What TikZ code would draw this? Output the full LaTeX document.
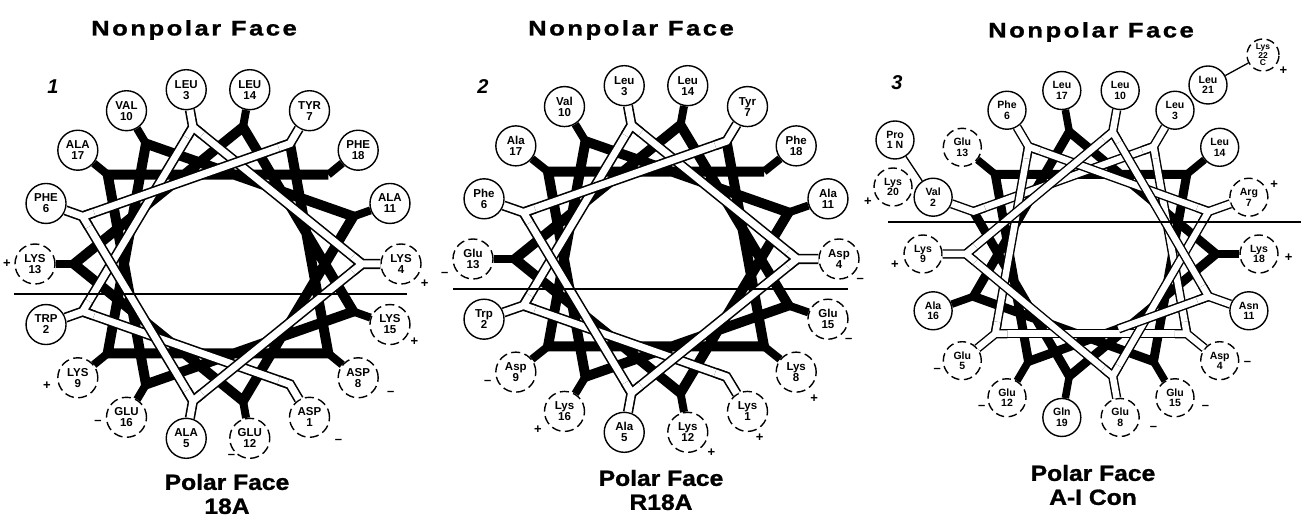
\documentclass[tikz,border=0pt]{standalone}
\usepackage{fontspec}
\setmainfont{Liberation Sans}
\newfontfamily\spacedfont[LetterSpace=12,FakeStretch=1.22,FakeBold=1.2]{Liberation Sans}
\newfontfamily\widefont[FakeStretch=1.12,FakeBold=1.2]{Liberation Sans}
\usetikzlibrary{calc}

\tikzset{
  res/.style={circle,draw,line width=1.4pt,fill=white,minimum size=40pt,inner sep=0pt,
    align=center,font=\fontsize{11.5}{11}\selectfont\bfseries},
  chg/.style={res,dash pattern=on 9pt off 4.5pt},
  resc/.style={res,minimum size=38pt,font=\fontsize{10.5}{10.5}\selectfont\bfseries},
  chgc/.style={resc,dash pattern=on 8.5pt off 4.5pt},
  sgn/.style={inner sep=0pt,font=\fontsize{13}{13}\selectfont\bfseries},
  backband/.style={line width=10pt,line join=miter},
  backstem/.style={line width=8pt},
  frontband/.style={double=white,double distance=7pt,line width=1.6pt,line join=miter},
  frontc/.style={frontband,double distance=6.5pt,line width=1.4pt},
  divide/.style={line width=1.5pt},
  link/.style={line width=1.3pt},
  title/.style={font=\spacedfont\fontsize{21}{21}\selectfont\bfseries},
  face/.style={align=center,font=\widefont\fontsize{22}{24}\selectfont\bfseries},
  tag/.style={font=\fontsize{20}{20}\selectfont\bfseries\itshape},
}

\begin{document}
\begin{tikzpicture}[x=1pt,y=1pt]
  \useasboundingbox (0,0) rectangle (1301,522);

  % wheel 1: 18A
  \begin{scope}[shift={(218,258)}]
    \foreach \n/\nm/\st in {1/ASP/chg,2/TRP/res,3/LEU/res,4/LYS/chg,5/ALA/res,6/PHE/res,
        7/TYR/res,8/ASP/chg,9/LYS/chg,10/VAL/res,11/ALA/res,12/GLU/chg,13/LYS/chg,
        14/LEU/res,15/LYS/chg,16/GLU/chg,17/ALA/res,18/PHE/res}
      \node[\st] (a\n) at ({-60-100*(\n-1)}:183 and 177) {\nm\\\n};
    \foreach \n in {1,...,18}
      \coordinate (ja\n) at ({-60-100*(\n-1)}:144 and 139);
    \draw[backband] (ja7) \foreach \n in {8,...,18} {-- (ja\n)};
    \foreach \n in {8,...,18}
      \draw[backstem] (a\n) -- (ja\n);
    \foreach \n [count=\m from 2] in {1,...,6}
      \draw[frontband] (ja\n) -- (ja\m);
    \draw[frontband] (a1) -- (ja1) -- ($(ja1)!12pt!(ja2)$);
    \foreach \p/\n/\q in {1/2/3,2/3/4,3/4/5,4/5/6,5/6/7}
      \draw[frontband] (a\n) -- (ja\n) ($(ja\n)!12pt!(ja\p)$) -- (ja\n) -- ($(ja\n)!12pt!(ja\q)$);
    \draw[frontband] (a7) -- (ja7) -- ($(ja7)!12pt!(ja6)$);
    \draw[divide] (-204,-30) -- (189,-30);
    \foreach \n/\a/\d/\s in {13/180/28/+,4/-40/31/+,15/-35/30/+,8/-25/36/–,1/-40/38/–,
        12/-135/26/–,16/-170/29/–,9/-165/32/+}
      \node[sgn] (sa\n) at ([shift={(\a:\d)}]a\n) {\s};
  \end{scope}

  % wheel 2: R18A
  \begin{scope}[shift={(656,263)}]
    \foreach \n/\nm/\st in {1/Lys/chg,2/Trp/res,3/Leu/res,4/Asp/chg,5/Ala/res,6/Phe/res,
        7/Tyr/res,8/Lys/chg,9/Asp/chg,10/Val/res,11/Ala/res,12/Lys/chg,13/Glu/chg,
        14/Leu/res,15/Glu/chg,16/Lys/chg,17/Ala/res,18/Phe/res}
      \node[\st] (b\n) at ({-60-100*(\n-1)}:183 and 176) {\nm\\\n};
    \foreach \n in {1,...,18}
      \coordinate (jb\n) at ({-60-100*(\n-1)}:141 and 136);
    \draw[backband] (jb7) \foreach \n in {8,...,18} {-- (jb\n)};
    \foreach \n in {8,...,18}
      \draw[backstem] (b\n) -- (jb\n);
    \foreach \n [count=\m from 2] in {1,...,6}
      \draw[frontband] (jb\n) -- (jb\m);
    \draw[frontband] (b1) -- (jb1) -- ($(jb1)!12pt!(jb2)$);
    \foreach \p/\n/\q in {1/2/3,2/3/4,3/4/5,4/5/6,5/6/7}
      \draw[frontband] (b\n) -- (jb\n) ($(jb\n)!12pt!(jb\p)$) -- (jb\n) -- ($(jb\n)!12pt!(jb\q)$);
    \draw[frontband] (b7) -- (jb7) -- ($(jb7)!12pt!(jb6)$);
    \draw[divide] (-203,-30) -- (192,-30);
    \foreach \n/\a/\d/\s in {13/-152/32/–,4/-45/30/–,15/-46/30/–,8/-56/32/+,1/-65/29/+,
        12/-40/31/+,16/-146/32/+,9/-159/30/–}
      \node[sgn] (sb\n) at ([shift={(\a:\d)}]b\n) {\s};
  \end{scope}

  % wheel 3: A-I Con
  \begin{scope}[shift={(1091,268)}]
    \node[resc] (c1) at (-196,114) {Pro\\1 N};
    \node[chgc] (c20) at (-198,67) {Lys\\20};
    \node[resc] (c21) at (117,169) {Leu\\21};
    \node[chgc,minimum size=32pt,font=\fontsize{8.5}{7.5}\selectfont\bfseries] (c22) at (172,199) {Lys\\22\\C};
    \foreach \n/\nm/\st in {2/Val/resc,3/Leu/resc,4/Asp/chgc,5/Glu/chgc,6/Phe/resc,
        7/Arg/chgc,8/Glu/chgc,9/Lys/chgc,10/Leu/resc,11/Asn/resc,12/Glu/chgc,
        13/Glu/chgc,14/Leu/resc,15/Glu/chgc,16/Ala/resc,17/Leu/resc,18/Lys/chgc,19/Gln/resc}
      \node[\st] (c\n) at ({-100-100*(\n-1)}:168 and 166) {\nm\\\n};
    \draw[link] (c1) -- (c2);
    \draw[link] (c21) -- (c22);
    \foreach \n in {2,...,20}
      \coordinate (jc\n) at ({-100-100*(\n-1)}:125 and 124);
    \coordinate (jcx) at ($(jc11)!0.5!(jc12)$);
    \draw[backband,line width=9pt] (jc11) \foreach \n in {12,...,20} {-- (jc\n)};
    \foreach \n in {12,...,19}
      \draw[backstem,line width=7.5pt] (c\n) -- (jc\n);
    \foreach \n [count=\m from 3] in {2,...,10}
      \draw[frontc] (jc\n) -- (jc\m);
    \draw[frontc] (jc11) -- (jcx);
    \draw[frontc] (c2) -- (jc2) -- ($(jc2)!12pt!(jc3)$);
    \foreach \p/\n/\q in {2/3/4,3/4/5,4/5/6,5/6/7,6/7/8,7/8/9,8/9/10,9/10/11,10/11/12}
      \draw[frontc] (c\n) -- (jc\n) ($(jc\n)!12pt!(jc\p)$) -- (jc\n) -- ($(jc\n)!12pt!(jc\q)$);
    \draw[divide] (-203,32) -- (210,32);
    \foreach \n/\a/\d/\s in {20/-150/29/+,9/-160/30/+,7/26/28/+,18/-8/30/+,4/-6/28/–,
        15/-18/32/–,8/-18/35/–,12/-160/27/–,5/-158/27/–,22/-38/26/+}
      \node[sgn] (sc\n) at ([shift={(\a:\d)}]c\n) {\s};
  \end{scope}

  % headings
  \node[title] (np1) at (194,492) {Nonpolar Face};
  \node[title] (np2) at (631,492) {Nonpolar Face};
  \node[title] (np3) at (1091,490) {Nonpolar Face};
  \node[face] (pf1) at (227,28) {Polar Face\\18A};
  \node[face] (pf2) at (661,32) {Polar Face\\R18A};
  \node[face] (pf3) at (1093,37) {Polar Face\\A-I Con};
  \node[tag] (t1) at (53,435) {1};
  \node[tag] (t2) at (483,435) {2};
  \node[tag] (t3) at (897,439) {3};
\end{tikzpicture}
\end{document}
